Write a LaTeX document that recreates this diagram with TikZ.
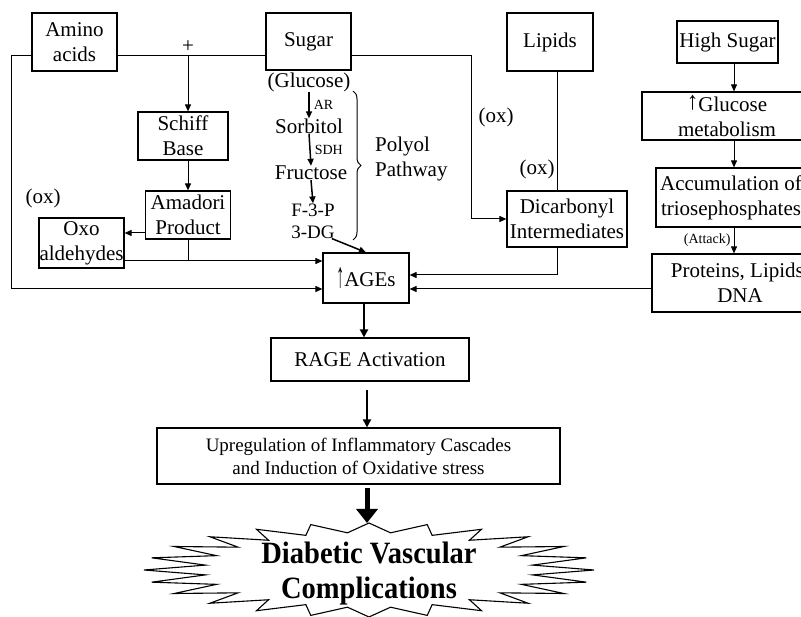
\documentclass[tikz,border=0pt]{standalone}
\usepackage{fontspec}
\setmainfont{Liberation Serif}
\usetikzlibrary{arrows.meta,positioning,calc,decorations.pathreplacing}

\begin{document}
\begin{tikzpicture}[x=1pt,y=-1pt,
    box/.style={draw,line width=1.2pt,align=center,inner sep=1pt,font=\fontsize{21}{25}\selectfont},
    txt/.style={align=center,inner sep=0pt,font=\fontsize{21}{25}\selectfont},
    tiny/.style={inner sep=0pt,font=\fontsize{14}{14}\selectfont},
    line/.style={line width=1pt},
    arr/.style={line width=1pt,-{Triangle[length=7pt,width=6pt]}},
    sarr/.style={line width=1.5pt,-{Triangle[length=7pt,width=6pt]}},
    marr/.style={line width=2pt,-{Triangle[length=8pt,width=8pt]}},
    fatarr/.style={line width=5pt,-{Triangle[length=14pt,width=21pt]}}]
    \useasboundingbox (0,0) rectangle (801,617);
    \clip (0,0) rectangle (801,617);

    % sources
    \node[box,minimum width=85pt,minimum height=58pt] (amino) at (74.5,42) {Amino\\acids};
    \node[box,minimum width=85pt,minimum height=57pt] (sugar) at (308.5,41.5) {Sugar};
    \node[box,minimum width=86pt,minimum height=58pt] (lipids) at (550,42) {Lipids};
    \node[box,minimum width=101pt,minimum height=42pt] (highsugar) at (727.5,42) {High Sugar};

    % Maillard branch
    \node[box,minimum width=90pt,minimum height=48pt] (schiff) at (183,136) {Schiff\\Base};
    \node[box,minimum width=85pt,minimum height=48pt] (amadori) at (188,215) {Amadori\\Product};
    \node[box,minimum width=85pt,minimum height=50pt,inner sep=0pt] (oxo) at (81.5,243) {Oxo\\aldehydes};
    \node[txt] at (43,198) {(ox)};
    \coordinate (plus) at (188,56);
    \node[txt] at (188,47) {+};

    % polyol pathway
    \node[txt] (glu) at (309,82) {(Glucose)};
    \node[txt] (sorb) at (309,126) {Sorbitol};
    \node[txt] (fruc) at (311,173) {Fructose};
    \node[txt,font=\fontsize{19}{22}\selectfont] (f3p) at (313,210) {F-3-P};
    \node[txt,font=\fontsize{19}{22}\selectfont] (dg) at (313,232) {3-DG};
    \node[txt,align=left,anchor=west] (polyol) at (375,159) {Polyol\\Pathway};
    \draw[line,decorate,decoration={brace,amplitude=8pt}] (353,91) -- (353,240);

    % dicarbonyls
    \node[box,minimum width=120pt,minimum height=56pt] (dicarb) at (567,219) {Dicarbonyl\\Intermediates};
    \node[txt] at (496,117) {(ox)};
    \node[txt] at (537,169) {(ox)};

    % AGEs and downstream
    \node[box,minimum width=86pt,minimum height=50pt] (ages) at (366,278)
        {\raisebox{-1pt}{\scalebox{0.75}[1.7]{↑}}AGEs};
    \node[box,minimum width=198pt,minimum height=43pt] (rage) at (370,359.5) {RAGE Activation};
    \node[box,minimum width=403pt,minimum height=56pt,font=\fontsize{19}{23}\selectfont] (upreg) at (358.5,456)
        {Upregulation of Inflammatory Cascades\\and Induction of Oxidative stress};

    % hyperglycaemia column
    \node[box,minimum width=170pt,minimum height=48pt] (glumet) at (727,116)
        {\raisebox{2pt}{\scalebox{1.1}[1.2]{↑}}Glucose\\metabolism};
    \node[box,minimum width=150pt,minimum height=59pt] (triose) at (731,197.5) {Accumulation of\\triosephosphates};
    \node[box,minimum width=176pt,minimum height=58pt] (proteins) at (740,283) {Proteins, Lipids,\\DNA};

    % star
    \begin{scope}[shift={(369,570)}]
        \draw[line width=1.1pt] (0:225 and 47)
            \foreach \k in {0,...,23} { -- (15*\k+7.5:165 and 37.5) -- (15*\k+15:225 and 47) } -- cycle;
    \end{scope}
    \coordinate (tip) at (367,523);
    \node[align=center,inner sep=0pt,font=\bfseries\fontsize{31}{35}\selectfont] (dvc) at (369,574)
        {\scalebox{0.92}[1]{Diabetic Vascular}\\\scalebox{0.92}[1]{Complications}};

    % connectors, left side
    \draw[line] (amino.east |- plus) -- (sugar.west |- plus);
    \draw[arr] (amino.west |- plus) -- (11,56) |- ([yshift=-11pt]ages.west);
    \draw[arr] (plus) -- (plus |- schiff.north);
    \draw[arr] (schiff.south -| plus) -- (amadori.north -| plus);
    \draw[arr] (amadori.west |- 0,233) -- (oxo.east |- 0,233);
    \draw[arr] (oxo.east |- 0,261) -- ([yshift=17pt]ages.west);
    \draw[line] (amadori.south) -- (amadori.south |- 0,261);

    % connectors, polyol
    \draw[sarr] (glu.south) -- node[tiny,right=4pt]{AR} (sorb.north);
    \draw[sarr] (sorb.south) -- node[tiny,right=4pt]{SDH} (fruc.north);
    \draw[sarr] (fruc.south) -- (f3p.north);
    \draw[sarr] ([xshift=-3pt]dg.south east) -- (ages.north);

    % connectors, sugar and lipids
    \draw[arr] (sugar.east |- plus) -- (471,56) |- (dicarb.west);
    \draw[line] ([xshift=7pt]lipids.south) -- ([xshift=7pt]lipids.south |- dicarb.north);
    \draw[arr] ([xshift=-10pt]dicarb.south) |- ([yshift=3pt]ages.east);

    % connectors, right column
    \draw[arr] ([xshift=6.5pt]highsugar.south) -- ([xshift=6.5pt]highsugar.south |- glumet.north);
    \draw[arr] ([xshift=7pt]glumet.south) -- ([xshift=7pt]glumet.south |- triose.north);
    \draw[arr] ([xshift=3pt]triose.south) -- node[tiny,left=3pt]{(Attack)} ([xshift=3pt]triose.south |- proteins.north);
    \draw[arr] ([yshift=-6pt]proteins.west) -- ([yshift=-11pt]ages.east);

    % downstream
    \draw[marr] ([xshift=-2pt]ages.south) -- ([xshift=-2pt]ages.south |- rage.north);
    \draw[marr] ([yshift=-8pt]rage.south -| tip) -- (upreg.north -| tip);
    \draw[fatarr] ([yshift=-3pt]upreg.south -| tip) -- (tip);
\end{tikzpicture}
\end{document}
